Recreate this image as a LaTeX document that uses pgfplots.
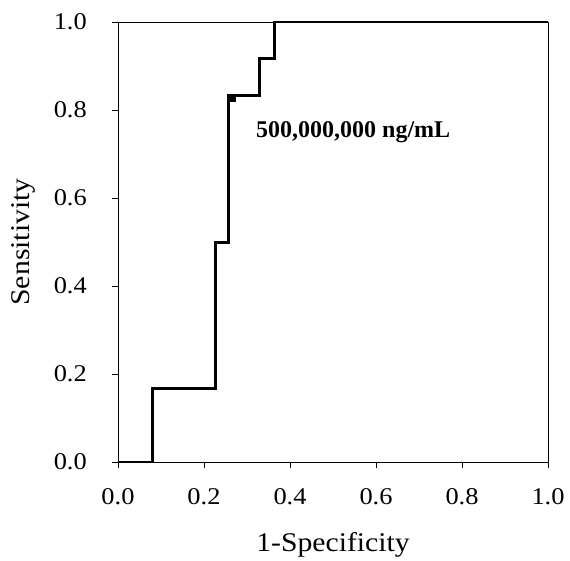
\documentclass[border=0pt]{standalone}
\usepackage{pgfplots}
\pgfplotsset{compat=1.18}
\usepackage{fontspec}
\setmainfont{Liberation Serif}[FakeStretch=1.1]
\newfontfamily\annotfont{Liberation Serif}
\begin{document}
\begin{tikzpicture}
\begin{axis}[
  name=ax,
  scale only axis,
  width=430pt, height=440pt,
  xmin=0, xmax=1, ymin=0, ymax=1,
  xtick={0,0.2,0.4,0.6,0.8,1.0},
  ytick={0,0.2,0.4,0.6,0.8,1.0},
  xticklabels={0.0,0.2,0.4,0.6,0.8,1.0},
  yticklabels={0.0,0.2,0.4,0.6,0.8,1.0},
  xtick pos=bottom, ytick pos=left,
  tick align=outside,
  major tick length=6pt,
  axis line style={line width=0.9pt},
  tick style={line width=0.9pt, black},
  every tick label/.append style={inner sep=0pt, font=\fontsize{24}{28}\selectfont},
  xticklabel shift=20pt,
  yticklabel shift=25pt,
  xlabel={1-Specificity},
  ylabel={Sensitivity},
  label style={font=\fontsize{27}{30}\selectfont},
  xlabel style={at={(axis description cs:0.5,-0.188)}, anchor=center},
  ylabel style={at={(axis description cs:-0.219,0.5)}, anchor=center},
]
\addplot[black, line width=3pt, line join=miter] coordinates {
  (0,0) (0.080,0) (0.080,0.167) (0.226,0.167) (0.226,0.5) (0.258,0.5)
  (0.258,0.833) (0.328,0.833) (0.328,0.917) (0.363,0.917) (0.363,1) (1,1)
};
\addplot[only marks, mark=square*, mark size=3.5pt, black] coordinates {(0.265,0.828)};
\node[anchor=base west, inner sep=0pt, font=\annotfont\bfseries\fontsize{24}{28}\selectfont] at (axis cs:0.321,0.737) {500,000,000 ng/mL};
\end{axis}
\pgfresetboundingbox
\path ([xshift=-118pt,yshift=-98pt]ax.south west) rectangle ([xshift=22pt,yshift=22pt]ax.north east);
\end{tikzpicture}
\end{document}
